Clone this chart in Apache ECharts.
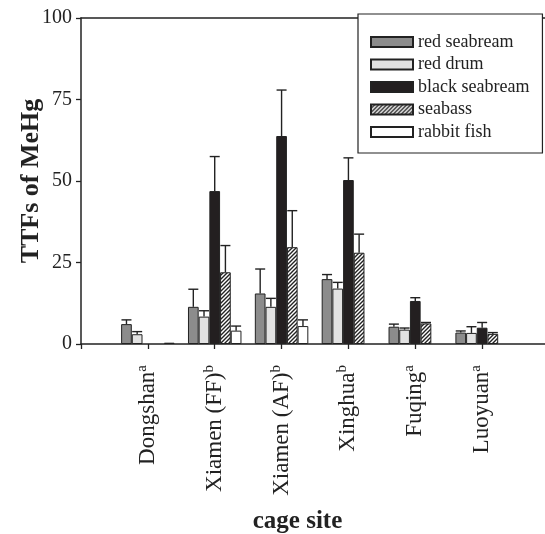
<!DOCTYPE html>
<html>
<head>
<meta charset="utf-8">
<script src="https://cdn.jsdelivr.net/npm/echarts@6/dist/echarts.min.js"></script>
<style>
  html, body { margin: 0; padding: 0; background: #fff; }
  #chart { width: 545px; height: 534px; }
</style>
</head>
<body>
<div id="chart"></div>
<script>
// cage sites and their significance letters
const sites = ['Dongshan', 'Xiamen (FF)', 'Xiamen (AF)', 'Xinghua', 'Fuqing', 'Luoyuan']
const siteSup = ['a', 'b', 'b', 'b', 'a', 'a']
const yTicks = [0, 25, 50, 75, 100]

// mean TTF values (null = not sampled)
const redSeabream = [6.1, 11.4, 15.5, 19.9, 5.3, 3.5]
const redDrum = [3.0, 8.4, 11.4, 17.0, 4.4, 3.4]
const blackSeabream = [null, 46.9, 63.8, 50.3, 13.2, 5.0]
const seabass = [null, 22.0, 29.7, 28.0, 6.3, 3.1]
const rabbitFish = [0.4, 4.1, 5.5, null, null, null]

// standard deviations (upper whisker only)
const redSeabreamSd = [1.3, 5.4, 7.5, 1.4, 0.8, 0.5]
const redDrumSd = [0.8, 1.8, 2.6, 1.9, 0.5, 1.9]
const blackSeabreamSd = [null, 10.6, 14.1, 6.8, 1.0, 1.6]
const seabassSd = [null, 8.2, 11.2, 5.7, 0.3, 0.4]
const rabbitFishSd = [0, 1.4, 1.9, null, null, null]

const seriesNames = ['red seabream', 'red drum', 'black seabream', 'seabass', 'rabbit fish']
const seriesValues = [redSeabream, redDrum, blackSeabream, seabass, rabbitFish]
const seriesSd = [redSeabreamSd, redDrumSd, blackSeabreamSd, seabassSd, rabbitFishSd]

// hatch pattern for seabass
function hatch() {
  const c = document.createElement('canvas')
  c.width = 4; c.height = 4
  const ctx = c.getContext('2d')
  ctx.fillStyle = '#fff'
  ctx.fillRect(0, 0, 4, 4)
  ctx.strokeStyle = '#222'
  ctx.lineWidth = 1.4
  ctx.beginPath()
  ctx.moveTo(-1, 5); ctx.lineTo(5, -1)
  ctx.moveTo(-1, 1); ctx.lineTo(1, -1)
  ctx.moveTo(3, 5); ctx.lineTo(5, 3)
  ctx.stroke()
  return { image: c, repeat: 'repeat' }
}

const fills = ['#8c8c8c', '#e2e2e2', '#231f20', hatch(), '#ffffff']
const serif = 'Liberation Serif'
const ink = '#222'

// pad the category axis so sites sit at positions 1..6 of a 0..7 axis
const axisCats = [''].concat(sites, [''])
const pad = v => [null].concat(v, [null])

const chart = echarts.init(document.getElementById('chart'))

const barSeries = seriesNames.map((name, i) => ({
  name,
  type: 'bar',
  data: pad(seriesValues[i]),
  barGap: 0,
  barCategoryGap: '20%',
  itemStyle: { color: fills[i], borderColor: ink, borderWidth: 1 },
}))

const errSeries = seriesNames.map((name, i) => ({
  type: 'custom',
  z: 5,
  silent: true,
  data: seriesValues[i]
    .map((v, k) => (v == null || !seriesSd[i][k]) ? null : [k + 1, v, v + seriesSd[i][k]])
    .filter(d => d),
  renderItem: (params, api) => {
    const band = api.size([1, 0])[0]
    const barW = band * 0.8 / 5
    const off = (i - 2) * barW
    const p0 = api.coord([api.value(0), api.value(1)])
    const p1 = api.coord([api.value(0), api.value(2)])
    const x = p0[0] + off
    const style = { stroke: ink, lineWidth: 1.4 }
    return {
      type: 'group',
      children: [
        { type: 'line', shape: { x1: x, y1: p0[1], x2: x, y2: p1[1] }, style },
        { type: 'line', shape: { x1: x - 5, y1: p1[1], x2: x + 5, y2: p1[1] }, style },
      ],
    }
  },
}))

chart.setOption({
  animation: false,
  grid: { left: 81, right: -4, top: 18, bottom: 190, outerBoundsMode: 'none', containLabel: false },
  legend: {
    data: seriesNames,
    icon: 'rect',
    orient: 'vertical',
    left: 358,
    top: 14,
    padding: [19, 13, 12, 12],
    itemWidth: 42,
    itemHeight: 10,
    itemGap: 4.5,
    itemTextGap: 8,
    backgroundColor: '#fff',
    borderColor: ink,
    borderWidth: 1.2,
    borderRadius: 0,
    textStyle: { fontFamily: serif, fontSize: 18, color: ink },
  },
  xAxis: [
    {
      type: 'category',
      data: axisCats,
      boundaryGap: false,
      axisLine: { lineStyle: { color: ink, width: 1.5 } },
      axisTick: { length: 5, lineStyle: { color: ink, width: 1.3 } },
      axisLabel: {
        interval: 0,
        rotate: 90,
        margin: 21,
        formatter: (v, idx) => v ? `{n|${v}}{s|${siteSup[idx - 1]}}` : '',
        rich: {
          n: { fontFamily: serif, fontSize: 23, color: ink, lineHeight: 27 },
          s: { fontFamily: serif, fontSize: 15, color: ink, verticalAlign: 'top' },
        },
      },
      name: 'cage site',
      nameLocation: 'middle',
      nameGap: 165,
      nameMoveOverlap: false,
      nameTextStyle: { fontFamily: serif, fontSize: 25, fontWeight: 'bold', color: ink, padding: [0, 35, 0, 0] },
    },
    {
      type: 'category',
      data: axisCats,
      boundaryGap: false,
      position: 'top',
      axisLine: { lineStyle: { color: ink, width: 1.5 } },
      axisTick: { show: false },
      axisLabel: { show: false },
    },
  ],
  yAxis: {
    type: 'value',
    min: yTicks[0],
    max: yTicks[yTicks.length - 1],
    interval: yTicks[1] - yTicks[0],
    splitLine: { show: false },
    axisLine: { show: true, lineStyle: { color: ink, width: 1.5 } },
    axisTick: { show: true, length: 5, lineStyle: { color: ink, width: 1.3 } },
    axisLabel: { fontFamily: serif, fontSize: 20, color: ink, margin: 9 },
    name: 'TTFs of MeHg',
    nameLocation: 'middle',
    nameGap: 37,
    nameMoveOverlap: false,
    nameTextStyle: { fontFamily: serif, fontSize: 26, fontWeight: 'bold', color: ink },
  },
  series: barSeries.concat(errSeries),
})
</script>
</body>
</html>
